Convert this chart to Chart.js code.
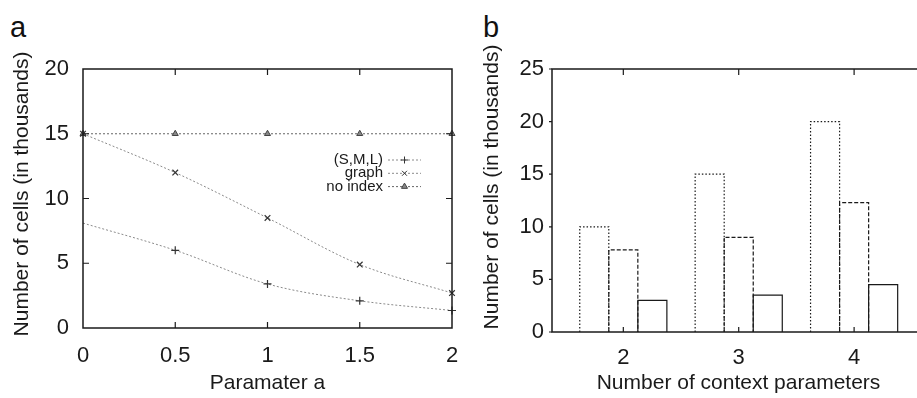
<!DOCTYPE html>
<html>
<head>
<meta charset="utf-8">
<script src="https://cdn.jsdelivr.net/npm/chart.js@4.4.1/dist/chart.umd.min.js"></script>
<style>
body { margin: 0; background: #fff; width: 917px; height: 398px; overflow: hidden; position: relative; font-family: "Liberation Sans", Arial, sans-serif; }
.panel { position: absolute; top: 0; height: 398px; width: 460px; }
#boxA { left: 0; }
#boxB { left: 460px; }
.tag { position: absolute; font-size: 29px; color: #111; line-height: 32px; }
</style>
</head>
<body>
<div class="tag" style="left:10px;top:11px">a</div>
<div class="tag" style="left:483px;top:11px">b</div>
<div id="boxA" class="panel"><canvas id="chartA"></canvas></div>
<div id="boxB" class="panel"><canvas id="chartB"></canvas></div>
<script>
// panel a
const paramA = [0, 0.5, 1, 1.5, 2];
const smlCells = [8.1, 6.0, 3.4, 2.1, 1.35];
const graphCells = [15, 12, 8.5, 4.9, 2.7];
const noIndexCells = [15, 15, 15, 15, 15];
const xTicksA = [0, 0.5, 1, 1.5, 2];
const yTicksA = [0, 5, 10, 15, 20];

// panel b
const ctxParams = [2, 3, 4];
const noIndexCellsB = [10, 15, 20];
const graphCellsB = [7.8, 9.0, 12.3];
const treeCellsB = [3.0, 3.5, 4.5];
const yTicksB = [0, 5, 10, 15, 20, 25];

const FONT = '"Liberation Sans", Arial, sans-serif';
const INK = '#1a1a1a';

Chart.defaults.font.family = FONT;
Chart.defaults.color = INK;

function points(xs, ys) {
	return xs.map((x, i) => ({ x: x, y: ys[i] }));
}

function drawTitleY(ctx, text, x, y) {
	ctx.save();
	ctx.translate(x, y);
	ctx.rotate(-Math.PI / 2);
	ctx.font = '21px ' + FONT;
	ctx.fillStyle = INK;
	ctx.textAlign = 'center';
	ctx.textBaseline = 'middle';
	ctx.fillText(text, 0, 0);
	ctx.restore();
}

function drawTitleX(ctx, text, x, y) {
	ctx.save();
	ctx.font = '21px ' + FONT;
	ctx.fillStyle = INK;
	ctx.textAlign = 'center';
	ctx.textBaseline = 'middle';
	ctx.fillText(text, x, y);
	ctx.restore();
}

// keep the x axis from shrinking the plot for its end labels
function noSidePad(s) {
	s.paddingLeft = 0;
	s.paddingRight = 0;
}

const frameA = {
	id: 'frameA',
	afterDraw(chart) {
		const ctx = chart.ctx;
		const ca = chart.chartArea;
		const xs = chart.scales.x;
		const ys = chart.scales.y;
		ctx.save();
		ctx.strokeStyle = INK;
		ctx.lineWidth = 1.5;
		ctx.strokeRect(ca.left, ca.top, ca.right - ca.left, ca.bottom - ca.top);
		ctx.lineWidth = 1.2;
		ctx.beginPath();
		xTicksA.slice(1, -1).forEach(v => {
			const px = xs.getPixelForValue(v);
			ctx.moveTo(px, ca.bottom); ctx.lineTo(px, ca.bottom - 6);
			ctx.moveTo(px, ca.top); ctx.lineTo(px, ca.top + 6);
		});
		yTicksA.slice(1, -1).forEach(v => {
			const py = ys.getPixelForValue(v);
			ctx.moveTo(ca.left, py); ctx.lineTo(ca.left + 6, py);
			ctx.moveTo(ca.right, py); ctx.lineTo(ca.right - 6, py);
		});
		ctx.stroke();

		// legend, gnuplot style: text then sample
		ctx.font = '15px ' + FONT;
		ctx.fillStyle = INK;
		ctx.textAlign = 'right';
		ctx.textBaseline = 'middle';
		chart.data.datasets.forEach((ds, i) => {
			const y = 160 + i * 13.3;
			ctx.fillText(ds.label, 383, y);
			ctx.save();
			ctx.strokeStyle = ds.borderColor;
			ctx.lineWidth = 1;
			ctx.setLineDash(ds.borderDash);
			ctx.beginPath();
			ctx.moveTo(388, y); ctx.lineTo(421, y);
			ctx.stroke();
			ctx.restore();
			ctx.save();
			ctx.strokeStyle = ds.pointBorderColor;
			ctx.fillStyle = ds.pointBackgroundColor;
			ctx.lineWidth = 1;
			Chart.helpers.drawPoint(ctx, { pointStyle: ds.pointStyle, radius: 3.5, borderWidth: 1, rotation: 0 }, 404.5, y);
			ctx.restore();
		});

		drawTitleY(ctx, 'Number of cells (in thousands)', 22, 194);
		drawTitleX(ctx, 'Paramater a', (ca.left + ca.right) / 2, 383);
		ctx.restore();
	}
};

new Chart(document.getElementById('chartA'), {
	type: 'line',
	data: {
		datasets: [{
			label: '(S,M,L)',
			data: points(paramA, smlCells),
			pointStyle: 'cross',
			pointRadius: [0, 4, 4, 4, 4],
			borderColor: '#8a8a8a',
			pointBorderColor: '#333',
			pointBackgroundColor: '#333',
			borderDash: [2, 2],
			borderWidth: 1,
			pointBorderWidth: 1.2,
			cubicInterpolationMode: 'monotone',
			clip: false
		}, {
			label: 'graph',
			data: points(paramA, graphCells),
			pointStyle: 'crossRot',
			pointRadius: 4,
			borderColor: '#8a8a8a',
			pointBorderColor: '#333',
			pointBackgroundColor: '#333',
			borderDash: [2, 2],
			borderWidth: 1,
			pointBorderWidth: 1.2,
			cubicInterpolationMode: 'monotone',
			clip: false
		}, {
			label: 'no index',
			data: points(paramA, noIndexCells),
			pointStyle: 'triangle',
			pointRadius: 3.5,
			borderColor: '#666',
			pointBorderColor: '#444',
			pointBackgroundColor: '#888',
			borderDash: [2, 2],
			borderWidth: 1,
			pointBorderWidth: 1,
			clip: false
		}]
	},
	options: {
		responsive: true,
		maintainAspectRatio: false,
		animation: false,
		layout: { padding: { top: 69, right: 8, left: 0, bottom: 0 } },
		scales: {
			x: {
				type: 'linear',
				min: 0,
				max: 2,
				afterBuildTicks: s => { s.ticks = xTicksA.map(v => ({ value: v })); },
				afterFit: s => { s.height = 70; noSidePad(s); },
				grid: { display: false, drawTicks: false },
				border: { display: false },
				ticks: { font: { size: 22 }, color: INK, padding: 15, maxRotation: 0, callback: v => String(v) }
			},
			y: {
				type: 'linear',
				min: 0,
				max: 20,
				afterBuildTicks: s => { s.ticks = yTicksA.map(v => ({ value: v })); },
				afterFit: s => { s.width = 83; },
				grid: { display: false, drawTicks: false },
				border: { display: false },
				ticks: { font: { size: 22 }, color: INK, padding: 14, callback: v => String(v) }
			}
		},
		plugins: { legend: { display: false }, tooltip: { enabled: false } }
	},
	plugins: [frameA]
});

const barStyles = [[1.5, 2], [4, 2], []];

const frameB = {
	id: 'frameB',
	afterDatasetsDraw(chart) {
		const ctx = chart.ctx;
		ctx.save();
		ctx.strokeStyle = INK;
		ctx.lineWidth = 1.2;
		chart.data.datasets.forEach((ds, i) => {
			const meta = chart.getDatasetMeta(i);
			ctx.setLineDash(barStyles[i]);
			meta.data.forEach(el => {
				const p = el.getProps(['x', 'y', 'base', 'width'], true);
				const l = p.x - p.width / 2, r = p.x + p.width / 2;
				ctx.beginPath();
				ctx.moveTo(l, p.base); ctx.lineTo(l, p.y); ctx.lineTo(r, p.y); ctx.lineTo(r, p.base);
				ctx.stroke();
			});
		});
		ctx.restore();
	},
	afterDraw(chart) {
		const ctx = chart.ctx;
		const ca = chart.chartArea;
		const xs = chart.scales.x;
		const ys = chart.scales.y;
		ctx.save();
		ctx.strokeStyle = INK;
		ctx.lineWidth = 1.5;
		ctx.strokeRect(ca.left, ca.top, ca.right - ca.left, ca.bottom - ca.top);
		ctx.lineWidth = 1.2;
		ctx.beginPath();
		ctxParams.forEach(v => {
			const px = xs.getPixelForValue(v);
			ctx.moveTo(px, ca.bottom); ctx.lineTo(px, ca.bottom - 5);
			ctx.moveTo(px, ca.top); ctx.lineTo(px, ca.top + 6);
		});
		yTicksB.forEach(v => {
			const py = ys.getPixelForValue(v);
			ctx.moveTo(ca.left, py); ctx.lineTo(ca.left - 3, py);
		});
		ctx.stroke();

		// legend
		ctx.font = '15px ' + FONT;
		ctx.fillStyle = INK;
		ctx.textAlign = 'right';
		ctx.textBaseline = 'middle';
		const order = [2, 1, 0];
		order.forEach((di, row) => {
			const y = 85 + row * 14.2;
			ctx.fillText(chart.data.datasets[di].label, 626, y);
			ctx.save();
			ctx.setLineDash(barStyles[di]);
			ctx.lineWidth = 1.1;
			ctx.strokeRect(630.5, y - 2.5, 32, 5);
			ctx.restore();
		});

		drawTitleY(ctx, 'Number of cells (in thousands)', 32, 187);
		drawTitleX(ctx, 'Number of context parameters', 278.5, 383);
		ctx.restore();
	}
};

new Chart(document.getElementById('chartB'), {
	type: 'bar',
	data: {
		datasets: [{
			label: 'no index',
			data: points(ctxParams, noIndexCellsB),
			backgroundColor: 'rgba(0,0,0,0)',
			borderWidth: 0
		}, {
			label: 'graph',
			data: points(ctxParams, graphCellsB),
			backgroundColor: 'rgba(0,0,0,0)',
			borderWidth: 0
		}, {
			label: 'tree',
			data: points(ctxParams, treeCellsB),
			backgroundColor: 'rgba(0,0,0,0)',
			borderWidth: 0
		}]
	},
	options: {
		responsive: true,
		maintainAspectRatio: false,
		animation: false,
		categoryPercentage: 0.755,
		barPercentage: 1,
		layout: { padding: { top: 69, right: 0, left: 0, bottom: 0 } },
		scales: {
			x: {
				type: 'linear',
				min: 1.382,
				max: 4.571,
				offset: false,
				afterBuildTicks: s => { s.ticks = ctxParams.map(v => ({ value: v })); },
				afterFit: s => { s.height = 66; noSidePad(s); },
				grid: { display: false, drawTicks: false },
				border: { display: false },
				ticks: { font: { size: 22 }, color: INK, padding: 13, maxRotation: 0, callback: v => String(v) }
			},
			y: {
				type: 'linear',
				min: 0,
				max: 25,
				afterBuildTicks: s => { s.ticks = yTicksB.map(v => ({ value: v })); },
				afterFit: s => { s.width = 92; },
				grid: { display: false, drawTicks: false },
				border: { display: false },
				ticks: { font: { size: 22 }, color: INK, padding: 8, callback: v => String(v) }
			}
		},
		plugins: { legend: { display: false }, tooltip: { enabled: false } }
	},
	plugins: [frameB]
});
</script>
</body>
</html>
